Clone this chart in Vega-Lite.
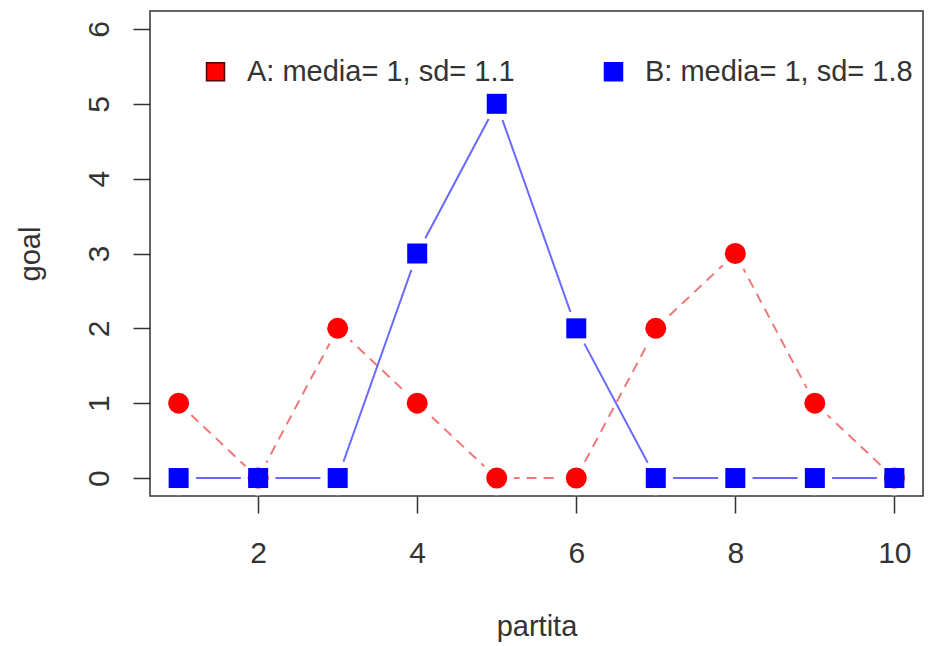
{
  "$schema": "https://vega.github.io/schema/vega-lite/v6.json",
  "width": 773,
  "height": 485,
  "autosize": {"type": "none"},
  "padding": {"left": 150, "top": 11, "right": 5, "bottom": 150},
  "background": "white",
  "config": {
    "view": {"stroke": "#333333", "strokeWidth": 1.5},
    "font": "Liberation Sans",
    "axis": {
      "grid": false,
      "domain": false,
      "tickColor": "#333333",
      "tickWidth": 1.5,
      "tickSize": 17,
      "labelFont": "Liberation Sans",
      "labelFontSize": 30,
      "labelColor": "#333333",
      "titleFont": "Liberation Sans",
      "titleFontSize": 29,
      "titleFontWeight": "normal",
      "titleColor": "#333333"
    }
  },
  "data": {
    "values": [
      {"partita": 1, "goal": 1, "serie": "A: media= 1, sd= 1.1"},
      {"partita": 2, "goal": 0, "serie": "A: media= 1, sd= 1.1"},
      {"partita": 3, "goal": 2, "serie": "A: media= 1, sd= 1.1"},
      {"partita": 4, "goal": 1, "serie": "A: media= 1, sd= 1.1"},
      {"partita": 5, "goal": 0, "serie": "A: media= 1, sd= 1.1"},
      {"partita": 6, "goal": 0, "serie": "A: media= 1, sd= 1.1"},
      {"partita": 7, "goal": 2, "serie": "A: media= 1, sd= 1.1"},
      {"partita": 8, "goal": 3, "serie": "A: media= 1, sd= 1.1"},
      {"partita": 9, "goal": 1, "serie": "A: media= 1, sd= 1.1"},
      {"partita": 10, "goal": 0, "serie": "A: media= 1, sd= 1.1"},
      {"partita": 1, "goal": 0, "serie": "B: media= 1, sd= 1.8"},
      {"partita": 2, "goal": 0, "serie": "B: media= 1, sd= 1.8"},
      {"partita": 3, "goal": 0, "serie": "B: media= 1, sd= 1.8"},
      {"partita": 4, "goal": 3, "serie": "B: media= 1, sd= 1.8"},
      {"partita": 5, "goal": 5, "serie": "B: media= 1, sd= 1.8"},
      {"partita": 6, "goal": 2, "serie": "B: media= 1, sd= 1.8"},
      {"partita": 7, "goal": 0, "serie": "B: media= 1, sd= 1.8"},
      {"partita": 8, "goal": 0, "serie": "B: media= 1, sd= 1.8"},
      {"partita": 9, "goal": 0, "serie": "B: media= 1, sd= 1.8"},
      {"partita": 10, "goal": 0, "serie": "B: media= 1, sd= 1.8"}
    ]
  },
  "encoding": {
    "x": {
      "field": "partita",
      "type": "quantitative",
      "scale": {"domain": [0.64, 10.36], "nice": false, "zero": false},
      "axis": {
        "values": [2, 4, 6, 8, 10],
        "labelPadding": 25,
        "labelBaseline": "top",
        "title": "partita",
        "titleX": 386.5,
        "titleY": 139,
        "titleBaseline": "alphabetic",
        "titleAlign": "center"
      }
    },
    "y": {
      "field": "goal",
      "type": "quantitative",
      "scale": {"domain": [-0.24, 6.24], "nice": false, "zero": false},
      "axis": {
        "values": [0, 1, 2, 3, 4, 5, 6],
        "labelAngle": -90,
        "labelAlign": "center",
        "labelBaseline": "alphabetic",
        "labelPadding": 25,
        "title": "goal",
        "titleAngle": -90,
        "titleX": -111,
        "titleY": 242.5,
        "titleAlign": "center",
        "titleBaseline": "alphabetic"
      }
    }
  },
  "layer": [
    {
      "transform": [{"filter": "datum.serie == 'A: media= 1, sd= 1.1'"}],
      "mark": {"type": "line", "color": "#f07878", "strokeWidth": 2, "strokeDash": [10, 7]},
      "encoding": {}
    },
    {
      "transform": [{"filter": "datum.serie == 'A: media= 1, sd= 1.1'"}],
      "mark": {"type": "point", "shape": "circle", "filled": true, "color": "#ffffff", "opacity": 1, "size": 1200},
      "encoding": {}
    },
    {
      "transform": [{"filter": "datum.serie == 'B: media= 1, sd= 1.8'"}],
      "mark": {"type": "line", "color": "#6a6aff", "strokeWidth": 2},
      "encoding": {}
    },
    {
      "transform": [{"filter": "datum.serie == 'B: media= 1, sd= 1.8'"}],
      "mark": {"type": "point", "shape": "circle", "filled": true, "color": "#ffffff", "opacity": 1, "size": 1200},
      "encoding": {}
    },
    {
      "transform": [{"filter": "datum.serie == 'A: media= 1, sd= 1.1'"}],
      "mark": {"type": "point", "shape": "circle", "filled": true, "opacity": 1, "size": 440},
      "encoding": {
        "color": {
          "field": "serie",
          "type": "nominal",
          "scale": {"domain": ["A: media= 1, sd= 1.1", "B: media= 1, sd= 1.8"], "range": ["#ff0000", "#0000ff"]},
          "legend": {
            "orient": "none",
            "legendX": 51,
            "legendY": 46,
            "direction": "horizontal",
            "title": null,
            "symbolType": "square",
            "symbolSize": 324,
            "symbolOpacity": 1,
            "labelFont": "Liberation Sans",
            "labelFontSize": 29,
            "labelColor": "#333333",
            "labelOffset": 17,
            "labelLimit": 400,
            "columnPadding": 84,
            "padding": 0,
            "encode": {
              "symbols": {
                "update": {
                  "stroke": [
                    {"test": "datum.value == 'A: media= 1, sd= 1.1'", "value": "#5a0000"},
                    {"value": "#0000ff"}
                  ],
                  "strokeWidth": {"value": 1.5}
                }
              }
            }
          }
        }
      }
    },
    {
      "transform": [{"filter": "datum.serie == 'B: media= 1, sd= 1.8'"}],
      "mark": {"type": "point", "shape": "square", "filled": true, "opacity": 1, "size": 400},
      "encoding": {
        "color": {"field": "serie", "type": "nominal"}
      }
    }
  ]
}
